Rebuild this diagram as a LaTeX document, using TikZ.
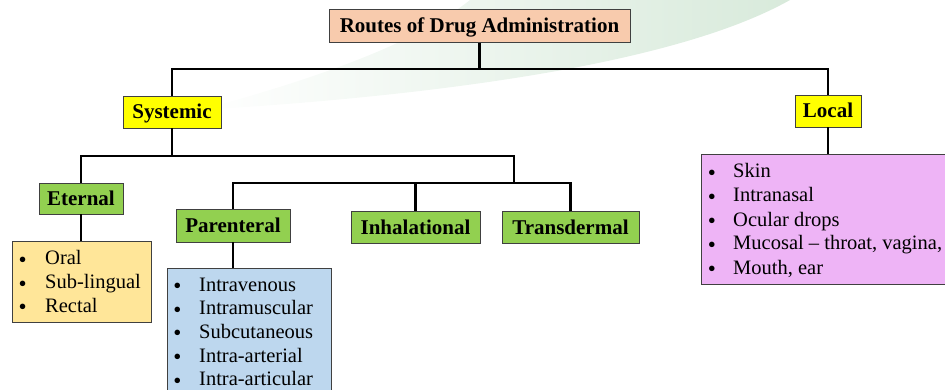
\documentclass[tikz,border=0pt]{standalone}
\usepackage{fontspec}
\setmainfont{Liberation Serif}
\definecolor{rootc}{HTML}{F8CBAD}
\definecolor{yel}{HTML}{FFFF00}
\definecolor{grn}{HTML}{92D050}
\definecolor{elc}{HTML}{FFE699}
\definecolor{plc}{HTML}{BDD7EE}
\definecolor{llc}{HTML}{EEB4F6}
\definecolor{bord}{HTML}{404040}
\definecolor{wm}{HTML}{D8EADB}
\begin{document}
\begin{tikzpicture}[x=1pt,y=-1pt,
  hbox/.style={draw=bord, line width=0.8pt, inner sep=0pt, text height=14pt, text depth=0pt, font=\fontsize{21}{24}\selectfont\bfseries},
  lbox/.style={draw=bord, line width=0.8pt, inner sep=0pt, anchor=north west},
  bul/.style={inner sep=0pt, anchor=base, text height=10pt, text depth=0pt, font=\fontsize{23}{24}\selectfont},
  itm/.style={inner sep=0pt, anchor=base west, text depth=0pt, font=\fontsize{20.5}{24}\selectfont},
  conn/.style={line width=2.6pt, black}]
\useasboundingbox (0,0) rectangle (945,390);
\clip (0,0) rectangle (945,390);
% faint watermark swoosh
\shade[left color=white, right color=wm] (200,110) .. controls (450,95) and (680,62) .. (790,0) -- (470,0) .. controls (420,40) and (330,75) .. (200,110) -- cycle;

% heading boxes
\node[hbox, fill=rootc, minimum width=301pt, minimum height=33.5pt] (root) at (479.5,25.75) {Routes of Drug Administration};
\node[hbox, fill=yel, minimum width=98pt, minimum height=32pt] (sys) at (172,112) {Systemic};
\node[hbox, fill=yel, minimum width=66pt, minimum height=32pt] (loc) at (828,111) {Local};
\node[hbox, fill=grn, minimum width=84pt, minimum height=31pt] (ete) at (81,198.5) {Eternal};
\node[hbox, fill=grn, minimum width=114pt, minimum height=33pt] (par) at (233,225.5) {Parenteral};
\node[hbox, fill=grn, minimum width=129pt, minimum height=32pt] (inh) at (415.5,227) {Inhalational};
\node[hbox, fill=grn, minimum width=137pt, minimum height=32pt] (tra) at (570.5,227) {Transdermal};

% list boxes
\node[lbox, fill=elc, minimum width=139pt, minimum height=81pt] (elist) at (12,241) {};
\node[lbox, fill=plc, minimum width=164pt, minimum height=140pt] (plist) at (167,268) {};
\node[lbox, fill=llc, minimum width=260pt, minimum height=130pt] (llist) at (701,154) {};

% junction coordinates
\coordinate (j1) at (479.5,69);
\coordinate (j2) at (514,156);
\coordinate (j3) at (514,183);

% connectors
\draw[conn] (root.south) -- (root.south |- j1);
\draw[conn] (sys.north) |- (j1) -| (loc.north);
\draw[conn] (sys.south) -- (sys.south |- j2);
\draw[conn] (ete.north) |- (j2) -- (j3);
\draw[conn] (par.north) |- (j3) -| (tra.north);
\draw[conn] (inh.north) -- (inh.north |- j3);
\draw[conn] (ete.south) -- (ete.south |- elist.north);
\draw[conn] (par.south) -- (par.south |- plist.north);
\draw[conn] (loc.south) -- (loc.south |- llist.north);

% list items
\foreach \t [count=\i] in {Oral,Sub-lingual,Rectal}{
  \node[bul] (eb\i) at (22.7,{267.5+23.5*(\i-1)}) {•};
  \node[itm] (ei\i) at (45,{265+23.5*(\i-1)}) {\t};}
\foreach \t [count=\i] in {Intravenous,Intramuscular,Subcutaneous,Intra-arterial,Intra-articular}{
  \node[bul] (pb\i) at (177.5,{293.5+23.7*(\i-1)}) {•};
  \node[itm] (pi\i) at (199,{291+23.7*(\i-1)}) {\t};}
\foreach \t [count=\i] in {Skin,Intranasal,Ocular drops,{Mucosal – throat, vagina,},{Mouth, ear}}{
  \node[bul] (lb\i) at (712,{180.5+24*(\i-1)}) {•};
  \node[itm] (li\i) at (733,{178+24*(\i-1)}) {\t};}
\end{tikzpicture}
\end{document}
